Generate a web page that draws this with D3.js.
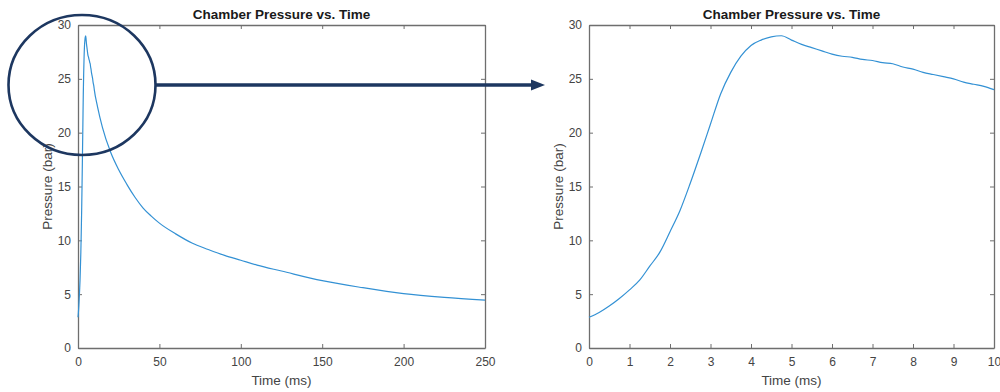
<!DOCTYPE html>
<html><head><meta charset="utf-8">
<script src="https://cdn.jsdelivr.net/npm/d3@7"></script>
<style>
html,body{margin:0;padding:0;background:#fff;}
svg{display:block;}
</style></head>
<body>
<svg id="chart" width="1000" height="392"></svg>
<script>
// ---- data ----
const riseTime = [0,0.25,0.5,0.75,1,1.25,1.5,1.75,2,2.25,2.5,2.75,3,3.25,3.5,3.75,4,4.25,4.5,4.75,5,5.25,5.5,5.75,6,6.25,6.5,6.75,7,7.25,7.5,7.75,8,8.25,8.5,8.75,9,9.25,9.5,9.75,10];
const risePressure = [2.85,3.3,3.9,4.6,5.4,6.3,7.6,8.9,10.8,12.8,15.3,18.0,20.8,23.6,25.6,27.1,28.1,28.6,28.9,29.0,28.6,28.2,27.9,27.6,27.3,27.1,27.0,26.8,26.7,26.5,26.4,26.1,25.9,25.6,25.4,25.2,25.0,24.7,24.5,24.3,24.0];
const decayTime = [12,15,20,25,30,35,40,45,50,60,70,80,90,100,110,125,150,175,200,225,250];
const decayPressure = [22.4,20.5,18.2,16.55,15.2,14.0,13.0,12.25,11.6,10.6,9.75,9.15,8.6,8.15,7.7,7.15,6.25,5.6,5.05,4.7,4.45];
const leftXTicks = [0,50,100,150,200,250];
const rightXTicks = [0,1,2,3,4,5,6,7,8,9,10];
const yTicks = [0,5,10,15,20,25,30];
const titleText = "Chamber Pressure vs. Time";
const xLabelText = "Time (ms)";
const yLabelText = "Pressure (bar)";

const svg = d3.select("#chart");
const axisColor = "#6e6e6e";
const textColor = "#444";
const lineColor = "#3391d4";

function drawPanel(g, x, y, xTicks, times, values) {
  const [x0, x1] = x.range();
  const [y0, y1] = y.range();
  const tl = 4;
  const bottom = g.append("g").attr("transform", `translate(0,${y0})`)
    .call(d3.axisBottom(x).tickValues(xTicks).tickSizeInner(-tl).tickSizeOuter(0).tickPadding(9).tickFormat(d3.format("d")));
  const top = g.append("g").attr("transform", `translate(0,${y1})`)
    .call(d3.axisTop(x).tickValues(xTicks).tickSizeInner(-tl).tickSizeOuter(0).tickFormat(""));
  const left = g.append("g").attr("transform", `translate(${x0},0)`)
    .call(d3.axisLeft(y).tickValues(yTicks).tickSizeInner(-tl).tickSizeOuter(0).tickPadding(7).tickFormat(d3.format("d")));
  const right = g.append("g").attr("transform", `translate(${x1},0)`)
    .call(d3.axisRight(y).tickValues(yTicks).tickSizeInner(-tl).tickSizeOuter(0).tickFormat(""));
  [bottom, top, left, right].forEach(a => {
    a.selectAll(".domain").attr("stroke", axisColor).attr("stroke-width", 1.3);
    a.selectAll(".tick line").attr("stroke", axisColor).attr("stroke-width", 1);
    a.selectAll(".tick text").attr("fill", textColor).style("font-family", "'Liberation Sans', Arial, sans-serif").style("font-size", "12px");
  });
  const pts = times.map((t, i) => [t, values[i]]);
  const line = d3.line().x(d => x(d[0])).y(d => y(d[1])).curve(d3.curveMonotoneX);
  g.append("path").datum(pts).attr("d", line)
    .attr("fill", "none").attr("stroke", lineColor).attr("stroke-width", 1.2);
  g.append("text").attr("x", (x0 + x1) / 2).attr("y", 19).attr("text-anchor", "middle")
    .style("font-family", "'Liberation Sans', Arial, sans-serif").style("font-size", "13.5px").style("font-weight", "bold")
    .attr("fill", "#1a1a1a").text(titleText);
  g.append("text").attr("x", (x0 + x1) / 2).attr("y", 385).attr("text-anchor", "middle")
    .style("font-family", "'Liberation Sans', Arial, sans-serif").style("font-size", "13.5px")
    .attr("fill", textColor).text(xLabelText);
  g.append("text").attr("transform", `translate(${x0 - 26},${(y0 + y1) / 2}) rotate(-90)`).attr("text-anchor", "middle")
    .style("font-family", "'Liberation Sans', Arial, sans-serif").style("font-size", "13.5px")
    .attr("fill", textColor).text(yLabelText);
}

const xL = d3.scaleLinear().domain([0, 250]).range([78, 485]);
const yL = d3.scaleLinear().domain([0, 30]).range([348, 25]);
drawPanel(svg.append("g"), xL, yL, leftXTicks, riseTime.concat(decayTime), risePressure.concat(decayPressure));

const xR = d3.scaleLinear().domain([0, 10]).range([589, 994]);
const yR = d3.scaleLinear().domain([0, 30]).range([348, 25]);
drawPanel(svg.append("g"), xR, yR, rightXTicks, riseTime, risePressure);

// annotation: ellipse around peak and arrow to zoomed panel
const navy = "#1d3760";
const ecx = 82, ecy = 85, erx = 73.5, ery = 70;
svg.append("ellipse").attr("cx", ecx).attr("cy", ecy).attr("rx", erx).attr("ry", ery)
  .attr("fill", "none").attr("stroke", navy).attr("stroke-width", 2.6);
svg.append("line").attr("x1", ecx + erx).attr("y1", ecy).attr("x2", 533).attr("y2", ecy)
  .attr("stroke", navy).attr("stroke-width", 3.4);
svg.append("path").attr("d", `M531,${ecy - 5.5} L545,${ecy} L531,${ecy + 5.5} Z`).attr("fill", navy);
</script>
</body></html>
